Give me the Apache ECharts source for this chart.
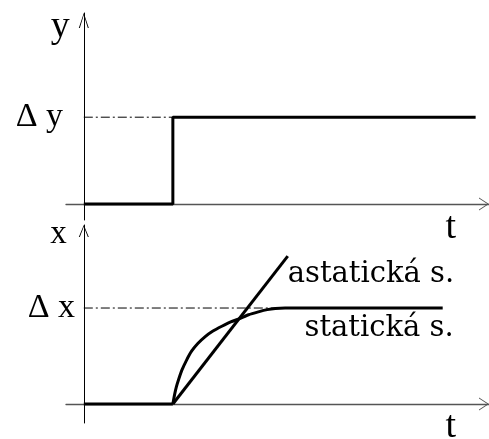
<!DOCTYPE html>
<html>
<head>
<meta charset="utf-8">
<script src="https://cdn.jsdelivr.net/npm/echarts@6/dist/echarts.min.js"></script>
<style>
  html, body { margin: 0; padding: 0; background: #fff; }
  #chart { width: 489px; height: 439px; }
</style>
</head>
<body>
<div id="chart"></div>
<script>
// top panel: step input y(t)
var stepT = [0, 1, 1, 4.4];
var stepY = [0, 0, 1, 1];
var levelYT = [0, 1];
// bottom panel: responses x(t)
var baseT = [0, 1];
var baseX = [0, 0];
var staticT = [1.0, 1.02, 1.04, 1.07, 1.1, 1.15, 1.21, 1.28, 1.36, 1.45, 1.55, 1.65, 1.75, 1.85, 1.96, 2.06, 2.15, 2.26, 2.37, 4.03];
var staticX = [0, 0.1, 0.18, 0.27, 0.35, 0.45, 0.55, 0.63, 0.70, 0.76, 0.81, 0.855, 0.89, 0.93, 0.96, 0.983, 0.995, 1, 1, 1];
var astaticT = [1, 2.29];
var astaticX = [0, 1.54];
var levelXT = [0, 2.15];
// texts
var axisNames = { y: 'y', x: 'x', t: 't' };
var levelLabels = { y: 'Δ y', x: 'Δ x' };
var seriesNames = ['astatická s.', 'statická s.'];

function zip(a, b) {
  return a.map(function (v, i) { return [v, b[i]]; });
}

var arrowX = 'path://M6.5,0 L13,10 L12,10 L6.5,1.6 L1,10 L0,10 Z';
var arrowY1 = 'path://M5,0 L10,15 L9,15 L5,2 L1,15 L0,15 Z';
var arrowY2 = 'path://M5,0 L10,12 L9,12 L5,1.8 L1,12 L0,12 Z';
var dashDot = [9, 3, 2, 3];

function xAxisFor(idx) {
  return {
    type: 'value',
    gridIndex: idx,
    min: -0.2,
    max: 4.55,
    name: axisNames.t,
    nameLocation: 'end',
    nameGap: -33,
    nameMoveOverlap: false,
    nameTextStyle: {
      fontFamily: 'Liberation Serif', fontSize: 38, color: '#000',
      align: 'right', verticalAlign: 'top', padding: [idx === 0 ? 5 : 4, 0, 0, 0]
    },
    axisLine: {
      onZero: true,
      symbol: ['none', arrowX],
      symbolSize: [13, 10],
      symbolOffset: [0, -5],
      lineStyle: { color: '#555', width: 1.3 }
    },
    axisTick: { show: false },
    axisLabel: { show: false },
    splitLine: { show: false }
  };
}

var option = {
  animation: false,
  backgroundColor: '#fff',
  textStyle: { fontFamily: 'Liberation Serif', color: '#000' },
  grid: [
    { left: 66, right: 0, top: 13, bottom: 219, containLabel: false, outerBoundsMode: 'none' },
    { left: 66, right: 0, top: 225, bottom: 16, containLabel: false, outerBoundsMode: 'none' }
  ],
  xAxis: [xAxisFor(0), xAxisFor(1)],
  yAxis: [
    {
      type: 'value',
      gridIndex: 0,
      min: -0.184,
      max: 2.2,
      name: axisNames.y,
      nameLocation: 'end',
      nameGap: -14,
      nameMoveOverlap: false,
      nameTextStyle: {
        fontFamily: 'Liberation Serif', fontSize: 38, color: '#000',
        align: 'right', verticalAlign: 'middle', padding: [0, 14, 0, 0]
      },
      axisLine: {
        onZero: true,
        symbol: ['none', arrowY1],
        symbolSize: [10, 15],
        symbolOffset: [0, -7.5],
        lineStyle: { color: '#000', width: 1 }
      },
      axisTick: { show: false },
      splitLine: { show: false },
      axisLabel: {
        customValues: [1],
        margin: 3,
        fontFamily: 'Liberation Serif', fontSize: 34, color: '#000',
        formatter: function () { return levelLabels.y; }
      }
    },
    {
      type: 'value',
      gridIndex: 1,
      min: -0.198,
      max: 1.865,
      name: axisNames.x,
      nameLocation: 'end',
      nameGap: -9,
      nameMoveOverlap: false,
      nameTextStyle: {
        fontFamily: 'Liberation Serif', fontSize: 33, color: '#000',
        align: 'right', verticalAlign: 'middle', padding: [0, 17, 0, 0]
      },
      axisLine: {
        onZero: true,
        symbol: ['none', arrowY2],
        symbolSize: [10, 12],
        symbolOffset: [0, -6],
        lineStyle: { color: '#000', width: 1 }
      },
      axisTick: { show: false },
      splitLine: { show: false },
      axisLabel: {
        customValues: [1],
        margin: -9,
        padding: [10, 0, 0, 0],
        fontFamily: 'Liberation Serif', fontSize: 34, color: '#000',
        formatter: function () { return levelLabels.x; }
      }
    }
  ],
  series: [
    {
      type: 'line', xAxisIndex: 0, yAxisIndex: 0,
      data: zip(levelYT, [1, 1]),
      symbol: 'none', silent: true,
      lineStyle: { color: '#000', width: 1, type: dashDot }
    },
    {
      type: 'line', xAxisIndex: 0, yAxisIndex: 0,
      data: zip(stepT, stepY),
      symbol: 'none', silent: true,
      lineStyle: { color: '#000', width: 3 }
    },
    {
      type: 'line', xAxisIndex: 1, yAxisIndex: 1,
      data: zip(levelXT, [1, 1]),
      symbol: 'none', silent: true,
      lineStyle: { color: '#000', width: 1, type: dashDot }
    },
    {
      type: 'line', xAxisIndex: 1, yAxisIndex: 1,
      data: zip(baseT, baseX),
      symbol: 'none', silent: true,
      lineStyle: { color: '#000', width: 3 }
    },
    {
      name: seriesNames[1],
      type: 'line', xAxisIndex: 1, yAxisIndex: 1,
      data: zip(staticT, staticX),
      symbol: 'none', silent: true,
      smooth: 0.2,
      lineStyle: { color: '#000', width: 3, join: 'round' },
      endLabel: {
        show: true,
        formatter: seriesNames[1],
        fontFamily: 'DejaVu Serif', fontSize: 29, color: '#000',
        align: 'right', verticalAlign: 'top',
        distance: 11, padding: [6, 0, 0, 0]
      }
    },
    {
      name: seriesNames[0],
      type: 'line', xAxisIndex: 1, yAxisIndex: 1,
      data: zip(astaticT, astaticX),
      symbol: 'none', silent: true,
      lineStyle: { color: '#000', width: 3 },
      endLabel: {
        show: true,
        formatter: seriesNames[0],
        fontFamily: 'DejaVu Serif', fontSize: 29, color: '#000',
        align: 'left', verticalAlign: 'top',
        distance: 0, padding: [4, 0, 0, 0]
      }
    }
  ]
};

var chart = echarts.init(document.getElementById('chart'), null, { renderer: 'canvas' });
chart.setOption(option);
</script>
</body>
</html>
